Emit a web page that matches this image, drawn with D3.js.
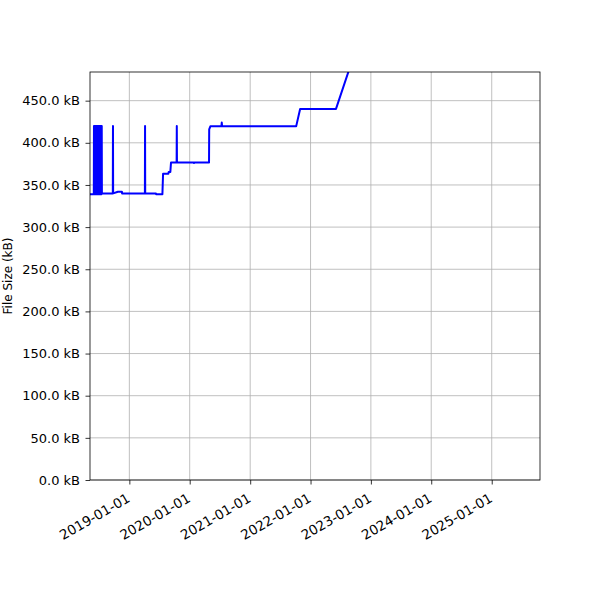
<!DOCTYPE html>
<html>
<head>
<meta charset="utf-8">
<script src="https://cdn.jsdelivr.net/npm/d3@7"></script>
<style>
  html, body { margin: 0; padding: 0; background: #fff; }
  text { font-family: "DejaVu Sans", sans-serif; }
</style>
</head>
<body>
<svg id="chart" width="600" height="600"></svg>
<script>
// ---- data ----
const dates = [
  "2018-05-08","2018-05-31",
  "2018-06-01","2018-06-03","2018-06-04","2018-06-06","2018-06-07","2018-06-09","2018-06-10","2018-06-12",
  "2018-06-13","2018-06-15","2018-06-16","2018-06-18","2018-06-19","2018-06-21","2018-06-22","2018-06-24",
  "2018-06-25","2018-06-27","2018-06-28","2018-06-30","2018-07-01","2018-07-03","2018-07-04","2018-07-06",
  "2018-07-07","2018-07-09","2018-07-10","2018-07-12","2018-07-13","2018-07-15","2018-07-16","2018-07-18",
  "2018-07-19","2018-09-23","2018-09-24","2018-09-25","2018-10-24","2018-11-17","2018-11-18",
  "2019-04-05","2019-04-06","2019-04-07","2019-06-11","2019-06-12","2019-07-20","2019-07-24",
  "2019-08-25","2019-08-27","2019-09-06","2019-09-10","2019-10-14","2019-10-15","2019-10-16",
  "2020-01-25","2020-01-27","2020-01-29","2020-04-27","2020-04-28","2020-05-05",
  "2020-07-11","2020-07-13","2020-07-15","2021-10-06","2021-10-30","2022-06-04","2022-10-18"
];
const sizes = [
  339, 339,
  420, 420, 339, 420, 339, 420, 339, 420,
  339, 420, 339, 420, 339, 420, 339, 420,
  339, 420, 339, 420, 339, 420, 339, 420,
  339, 420, 339, 420, 339, 420, 339, 420,
  340, 340, 420, 340, 342, 342, 340,
  340, 420, 340, 340, 339, 339, 363.3,
  363.3, 365.5, 365.5, 376.7, 376.7, 420, 376.7,
  376.7, 376, 376.7, 376.7, 416, 419.5,
  419.5, 424, 419.5, 419.5, 440.2, 440.2, 520
];
const yTicks = [0, 50, 100, 150, 200, 250, 300, 350, 400, 450];
const xTicks = ["2019-01-01","2020-01-01","2021-01-01","2022-01-01","2023-01-01","2024-01-01","2025-01-01"];
const xDomain = ["2018-05-08", "2025-10-20"];
const yDomain = [0, 484];
const yLabel = "File Size (kB)";

// ---- layout ----
const svg = d3.select("#chart");
const L = 90, R = 540, T = 72, B = 480;
const parse = d3.utcParse("%Y-%m-%d");
const data = dates.map((d, i) => ({ date: parse(d), v: sizes[i] }));

const x = d3.scaleUtc().domain(xDomain.map(parse)).range([L, R]);
const y = d3.scaleLinear().domain(yDomain).range([B, T]);

// grid
const grid = svg.append("g");
grid.selectAll(".gx").data(xTicks.map(parse)).join("line")
  .attr("x1", d => x(d)).attr("x2", d => x(d)).attr("y1", T).attr("y2", B)
  .attr("stroke", "#b0b0b0").attr("stroke-width", 0.8);
grid.selectAll(".gy").data(yTicks).join("line")
  .attr("x1", L).attr("x2", R).attr("y1", d => y(d)).attr("y2", d => y(d))
  .attr("stroke", "#b0b0b0").attr("stroke-width", 0.8);

// line
svg.append("defs").append("clipPath").attr("id", "clip")
  .append("rect").attr("x", L).attr("y", T).attr("width", R - L).attr("height", B - T);
svg.append("path").datum(data)
  .attr("clip-path", "url(#clip)")
  .attr("fill", "none").attr("stroke", "#0000ff").attr("stroke-width", 2)
  .attr("stroke-linejoin", "round")
  .attr("d", d3.line().x(d => x(d.date)).y(d => y(d.v)));

// axes
const yAxis = d3.axisLeft(y).tickValues(yTicks).tickFormat(d => d.toFixed(1) + " kB")
  .tickSize(4.5).tickPadding(5.5).tickSizeOuter(0);
const gy = svg.append("g").attr("transform", `translate(${L},0)`).call(yAxis);
gy.select(".domain").remove();
gy.selectAll("text").attr("font-size", 13).attr("font-family", "DejaVu Sans").attr("fill", "#000");
gy.selectAll("line").attr("stroke", "#000").attr("stroke-width", 0.8);

const xAxis = d3.axisBottom(x).tickValues(xTicks.map(parse)).tickFormat(d3.utcFormat("%Y-%m-%d"))
  .tickSize(4.5).tickSizeOuter(0);
const gx = svg.append("g").attr("transform", `translate(0,${B})`).call(xAxis);
gx.select(".domain").remove();
gx.selectAll("line").attr("stroke", "#000").attr("stroke-width", 0.8);
gx.selectAll("text")
  .attr("font-size", 13.5).attr("font-family", "DejaVu Sans").attr("fill", "#000")
  .attr("text-anchor", "end").attr("dy", null).attr("y", null)
  .attr("dominant-baseline", "hanging")
  .attr("transform", "translate(-4,12) rotate(-30)");

// frame
svg.append("rect").attr("x", L).attr("y", T).attr("width", R - L).attr("height", B - T)
  .attr("fill", "none").attr("stroke", "#000").attr("stroke-width", 0.8);

// y label
svg.append("text").attr("transform", `translate(12,${(T + B) / 2}) rotate(-90)`)
  .attr("text-anchor", "middle").attr("font-size", 12).attr("fill", "#000")
  .text(yLabel);
</script>
</body>
</html>
